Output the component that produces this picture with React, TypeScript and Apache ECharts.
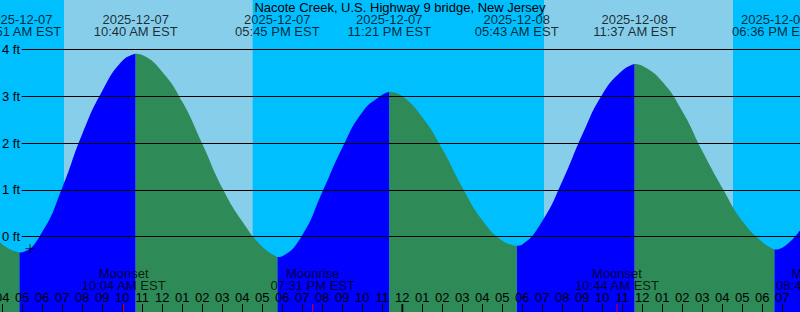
import React, { useEffect, useRef } from "react";
import * as echarts from "echarts";

// ---------- data ----------
const TITLE = "Nacote Creek, U.S. Highway 9 bridge, New Jersey";
const VIEW_START = "2025-12-07 03:53";
const VIEW_HOURS = 40;

const TIDE_EVENT_TIMES = [
  "2025-12-07 04:51",
  "2025-12-07 10:40",
  "2025-12-07 17:45",
  "2025-12-07 23:21",
  "2025-12-08 05:43",
  "2025-12-08 11:37",
  "2025-12-08 18:36",
];
const TIDE_EVENT_TYPES = ["low", "high", "low", "high", "low", "high", "low"];
const TIDE_EVENT_HEIGHTS = [-0.34, 3.91, -0.44, 3.09, -0.2, 3.69, -0.28];

// hours after 2025-12-07 00:00 EST, heights (ft) read at each hour mark
const HOURLY_TIMES = [
  3, 4, 5, 6, 7, 8, 9, 10, 11, 12, 13, 14, 15, 16, 17, 18, 19, 20, 21, 22, 23,
  24, 25, 26, 27, 28, 29, 30, 31, 32, 33, 34, 35, 36, 37, 38, 39, 40, 41, 42, 43, 44,
];
const HOURLY_HEIGHTS = [
  0.35, -0.17, -0.335, 0.1, 1.05, 2.2, 3.12, 3.76, 3.88, 3.52, 2.88, 1.98, 1.04, 0.32,
  -0.22, -0.42, 0.03, 0.95, 1.9, 2.66, 3.03, 3.0, 2.55, 1.87, 1.05, 0.35, -0.09, -0.17,
  0.33, 1.18, 2.18, 3.04, 3.55, 3.65, 3.31, 2.68, 1.83, 1.04, 0.33, -0.12, -0.24, 0.2,
];

const SUNRISE_TIMES = ["2025-12-07 07:05", "2025-12-08 07:05"];
const SUNSET_TIMES = ["2025-12-07 16:31", "2025-12-08 16:32"];

const MOON_EVENT_TIMES = [
  "2025-12-07 10:04",
  "2025-12-07 19:31",
  "2025-12-08 10:44",
  "2025-12-08 20:48",
];
const MOON_EVENT_NAMES = ["Moonset", "Moonrise", "Moonset", "Moonrise"];

const MIDNIGHT_TIMES = ["2025-12-08 00:00"];
const DATUM_LEVELS = [0, 1, 2, 3, 4];
const NOW_MARK_TIME = "2025-12-07 05:23";
const NOW_MARK_HEIGHT = -0.26;

// ---------- helpers ----------
const pad = (n: number) => String(n).padStart(2, "0");
function hoursSince(s: string): number {
  const [d, tm] = s.split(" ");
  const day = Number(d.slice(8, 10)) - 7;
  const [hh, mm] = tm.split(":").map(Number);
  return day * 24 + hh + mm / 60;
}
function fmtTime(s: string): string {
  const tm = s.split(" ")[1];
  const [hh, mm] = tm.split(":").map(Number);
  const ampm = hh < 12 ? "AM" : "PM";
  const h12 = hh % 12 === 0 ? 12 : hh % 12;
  return `${pad(h12)}:${pad(mm)} ${ampm} EST`;
}

const W = 800;
const H = 312;
const FONT = "Liberation Sans";
const NIGHT = "#00BFFF";
const DAY = "#87CEEB";
const RISING = "#0000FF";
const FALLING = "#2E8B57";

export default function App() {
  const ref = useRef<HTMLDivElement>(null);

  useEffect(() => {
    if (!ref.current) return;
    const chart = echarts.init(ref.current, undefined, { renderer: "svg" });

    const t0 = hoursSince(VIEW_START);
    const t1 = t0 + VIEW_HOURS;
    const pxPerHour = W / VIEW_HOURS;
    // y scale: 0 ft at row 236.5, 46.75 px per foot
    const zeroY = 236.5;
    const pxPerFt = 46.75;
    const yMax = zeroY / pxPerFt;
    const yMin = -(H - zeroY) / pxPerFt;

    const evT = TIDE_EVENT_TIMES.map(hoursSince);

    // merge hourly readings and extremes
    const pts: { t: number; h: number; ev: boolean }[] = [];
    HOURLY_TIMES.forEach((t, i) => {
      if (!evT.some((e) => Math.abs(e - t) < 0.05)) pts.push({ t, h: HOURLY_HEIGHTS[i], ev: false });
    });
    evT.forEach((t, i) => pts.push({ t, h: TIDE_EVENT_HEIGHTS[i], ev: true }));
    pts.sort((a, b) => a.t - b.t);

    const isRising = (t: number) => {
      if (t < evT[0]) return TIDE_EVENT_TYPES[0] === "high";
      for (let i = 0; i < evT.length - 1; i++) {
        if (t >= evT[i] && t <= evT[i + 1]) return TIDE_EVENT_TYPES[i] === "low";
      }
      return TIDE_EVENT_TYPES[evT.length - 1] === "low";
    };
    const risingData = pts.map((p) => (p.ev || isRising(p.t) ? [p.t, p.h] : [p.t, "-"]));
    const fallingData = pts.map((p) => (p.ev || !isRising(p.t) ? [p.t, p.h] : [p.t, "-"]));

    const dayData = SUNRISE_TIMES.map((s, i) => [hoursSince(s), hoursSince(SUNSET_TIMES[i])]);

    const lineStartT = t0 + 21.7 / pxPerHour;
    const tideLabels = TIDE_EVENT_TIMES.map((s) => ({
      value: [hoursSince(s), 1],
      name: `${s.split(" ")[0]}\n${fmtTime(s)}`,
    }));
    const moonLabels = MOON_EVENT_TIMES.map((s, i) => ({
      value: [hoursSince(s), 0],
      name: `${MOON_EVENT_NAMES[i]}\n${fmtTime(s)}`,
    }));

    const textBase = { fontFamily: FONT, fontSize: 13, color: "#000" };

    const areaSeries = (data: any[], color: string, name: string) => ({
      type: "line",
      name,
      xAxisIndex: 0,
      yAxisIndex: 0,
      data,
      smooth: 0.5,
      connectNulls: false,
      showSymbol: false,
      symbol: "none",
      lineStyle: { width: 0, opacity: 0 },
      areaStyle: { color, opacity: 1, origin: "start" },
      z: 2,
      silent: true,
    });

    const option: any = {
      animation: false,
      backgroundColor: NIGHT,
      title: {
        text: TITLE,
        left: "center",
        top: 0,
        padding: 0,
        textStyle: { ...textBase, fontWeight: "normal", lineHeight: 14 },
      },
      grid: [
        { left: 0, right: 0, top: 0, bottom: 0, outerBoundsMode: "none", containLabel: false },
        {
          left: (4 - t0) * pxPerHour,
          right: W - (43 - t0) * pxPerHour,
          top: 0,
          bottom: 0,
          outerBoundsMode: "none",
          containLabel: false,
        },
      ],
      xAxis: [
        { type: "value", gridIndex: 0, min: t0, max: t1, show: false },
        {
          type: "value",
          gridIndex: 1,
          min: 4,
          max: 43,
          interval: 1,
          z: 10,
          axisLine: { show: false },
          splitLine: { show: false },
          axisTick: { show: true, inside: true, length: 8, lineStyle: { color: "#000", width: 1 } },
          axisLabel: {
            show: true,
            inside: true,
            margin: 14.3,
            verticalAlign: "middle",
            interval: 0,
            hideOverlap: false,
            showMinLabel: true,
            showMaxLabel: true,
            ...textBase,
            formatter: (v: number) => {
              const h = ((Math.round(v) % 24) + 24) % 24;
              return pad(h % 12 === 0 ? 12 : h % 12);
            },
          },
        },
      ],
      yAxis: [
        { type: "value", gridIndex: 0, min: yMin, max: yMax, show: false },
        { type: "value", gridIndex: 0, min: 0, max: 1, show: false },
        { type: "value", gridIndex: 1, min: 0, max: 1, show: false },
      ],
      series: [
        {
          type: "custom",
          xAxisIndex: 0,
          yAxisIndex: 0,
          z: 1,
          silent: true,
          encode: { x: [0, 1] },
          data: dayData,
          renderItem: (params: any, api: any) => {
            const cs = params.coordSys;
            const xa = api.coord([api.value(0), 0])[0];
            const xb = api.coord([api.value(1), 0])[0];
            return {
              type: "rect",
              shape: { x: xa, y: cs.y, width: xb - xa, height: cs.height },
              style: { fill: DAY },
            };
          },
        },
        {
          ...areaSeries(risingData, RISING, "rising"),
          markLine: {
            silent: true,
            symbol: ["none", "none"],
            z: 5,
            lineStyle: { color: "#000", width: 1, type: "solid" },
            label: { show: true, position: "start", distance: 1.7, formatter: "{b}", ...textBase },
            data: DATUM_LEVELS.map((v) => [
              { coord: [lineStartT, v], name: `${v} ft` },
              { coord: [t1, v] },
            ]),
          },
        },
        areaSeries(fallingData, FALLING, "falling"),
        {
          type: "scatter",
          xAxisIndex: 0,
          yAxisIndex: 0,
          z: 6,
          silent: true,
          clip: false,
          symbol: "path://M0,4h9v1h-9zM4,0h1v9h-1z",
          symbolSize: 9,
          itemStyle: { color: "#000" },
          data: [[hoursSince(NOW_MARK_TIME), NOW_MARK_HEIGHT]],
        },
        {
          type: "scatter",
          xAxisIndex: 0,
          yAxisIndex: 1,
          z: 7,
          silent: true,
          clip: false,
          symbolSize: 0,
          data: tideLabels,
          label: {
            show: true,
            position: "inside",
            offset: [0, 25.4],
            formatter: "{b}",
            lineHeight: 12,
            align: "center",
            verticalAlign: "middle",
            ...textBase,
          },
        },
        {
          type: "scatter",
          xAxisIndex: 0,
          yAxisIndex: 1,
          z: 7,
          silent: true,
          clip: false,
          symbolSize: 0,
          data: moonLabels,
          label: {
            show: true,
            position: "inside",
            offset: [0, -32.4],
            formatter: "{b}",
            lineHeight: 12,
            align: "center",
            verticalAlign: "middle",
            ...textBase,
          },
        },
        {
          type: "scatter",
          xAxisIndex: 0,
          yAxisIndex: 1,
          z: 8,
          silent: true,
          clip: false,
          symbol: "rect",
          symbolSize: [1, 8],
          symbolOffset: [0, -4],
          itemStyle: { color: "#FF0000" },
          data: MOON_EVENT_TIMES.map((s) => [hoursSince(s), 0]),
        },
        {
          type: "scatter",
          xAxisIndex: 0,
          yAxisIndex: 1,
          z: 8,
          silent: true,
          clip: false,
          symbol: "rect",
          symbolSize: [2, 8],
          symbolOffset: [0, -4],
          itemStyle: { color: "#000" },
          data: MIDNIGHT_TIMES.map((s) => [hoursSince(s), 0]),
        },
      ],
    };

    chart.setOption(option);
    return () => chart.dispose();
  }, []);

  return (
    <div
      ref={ref}
      style={{ position: "fixed", left: 0, top: 0, width: W, height: H }}
    />
  );
}
